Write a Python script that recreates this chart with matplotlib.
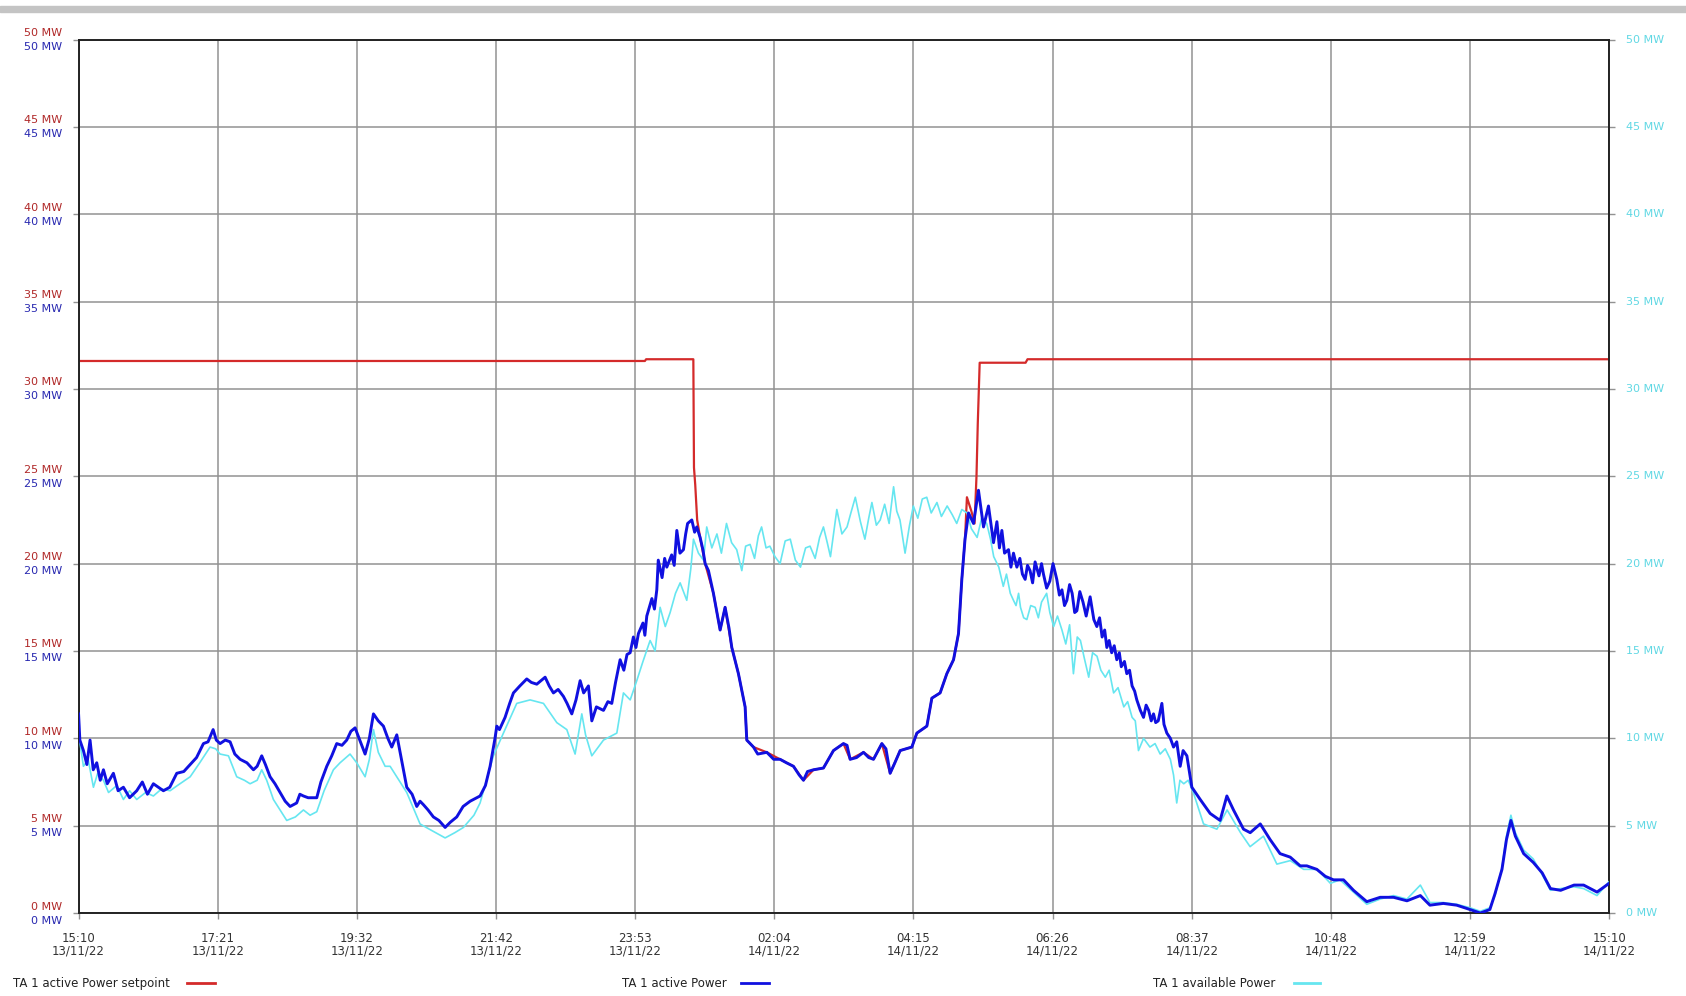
import matplotlib
matplotlib.use("Agg")
import matplotlib.pyplot as plt
from matplotlib.lines import Line2D
from matplotlib.patches import Rectangle

# time axis: hours after 15:10 13/11/22
tick_times = ["15:10", "17:21", "19:32", "21:42", "23:53", "02:04",
              "04:15", "06:26", "08:37", "10:48", "12:59", "15:10"]
tick_dates = ["13/11/22"] * 5 + ["14/11/22"] * 7
mw_ticks = [0, 5, 10, 15, 20, 25, 30, 35, 40, 45, 50]

# TA 1 active Power setpoint
setpoint_h = [0.0, 8.88, 8.9, 9.64, 9.65, 9.67, 9.70, 9.746, 9.825, 9.955, 10.06, 10.138,
              10.243, 10.347, 10.452, 10.478, 10.583, 10.792, 11.0, 11.21, 11.367, 11.524,
              11.68, 11.837, 11.994, 12.099, 12.308, 12.465, 12.596, 12.726, 12.883, 13.066,
              13.145, 13.302, 13.38, 13.51, 13.615, 13.72, 13.798, 13.85, 13.90, 13.93,
              14.0, 14.05, 14.08, 14.10, 14.13, 14.85, 14.88, 24.0]
setpoint_mw = [31.6, 31.6, 31.7, 31.7, 25.5, 24.5, 22.5, 21.5, 20.0, 18.3, 16.2, 17.5,
               15.2, 13.7, 11.8, 9.9, 9.5, 9.2, 8.8, 8.4, 7.6, 8.2,
               8.3, 9.3, 9.7, 8.8, 9.2, 8.8, 9.7, 8.0, 9.3, 9.5,
               10.3, 10.7, 12.3, 12.6, 13.7, 14.5, 16.0, 19.1, 21.4, 23.8,
               23.0, 22.3, 25.0, 28.0, 31.5, 31.5, 31.7, 31.7]

# TA 1 active Power
active_h = [0.0, 0.02, 0.076, 0.13, 0.18, 0.23, 0.285, 0.34, 0.39, 0.45, 0.546, 0.62,
            0.703, 0.80, 0.912, 1.0, 1.08, 1.173, 1.25, 1.33, 1.43, 1.54, 1.65, 1.75,
            1.85, 1.958, 2.03, 2.11, 2.16, 2.219, 2.30, 2.376, 2.45, 2.533, 2.64, 2.742,
            2.80, 2.872, 2.93, 3.003, 3.08, 3.16, 3.24, 3.317, 3.42, 3.47, 3.526, 3.6,
            3.735, 3.80, 3.892, 3.97, 4.048, 4.13, 4.205, 4.27, 4.336, 4.42, 4.493, 4.56,
            4.624, 4.70, 4.78, 4.85, 4.911, 4.99, 5.146, 5.23, 5.303, 5.355, 5.408, 5.48,
            5.564, 5.65, 5.748, 5.83, 5.93, 6.03, 6.14, 6.296, 6.38, 6.453, 6.53, 6.558,
            6.60, 6.688, 6.76, 6.819, 6.92, 7.028, 7.10, 7.185, 7.316, 7.38, 7.446, 7.52,
            7.603, 7.66, 7.734, 7.80, 7.865, 7.92, 7.995, 8.048, 8.12, 8.231, 8.30, 8.361,
            8.42, 8.492, 8.55, 8.60, 8.649, 8.70, 8.74, 8.779, 8.85, 8.88, 8.91, 8.99, 9.03,
            9.067, 9.09, 9.15, 9.19, 9.224, 9.30, 9.34, 9.381, 9.43, 9.485, 9.52, 9.55, 9.616,
            9.66, 9.694, 9.746, 9.79, 9.825,
            9.877, 9.955, 10.06, 10.138, 10.20, 10.243, 10.347, 10.452, 10.478, 10.583,
            10.65, 10.792, 10.90, 11.0, 11.10, 11.21, 11.30, 11.367, 11.43, 11.524, 11.68,
            11.837, 11.994, 12.05, 12.099, 12.20, 12.308, 12.39, 12.465, 12.596, 12.66,
            12.726, 12.80, 12.883, 13.066, 13.145, 13.302, 13.38, 13.51, 13.615, 13.72,
            13.798, 13.85, 13.90, 13.955, 14.033, 14.111, 14.19, 14.268, 14.347,
            14.40, 14.44, 14.478, 14.52, 14.582, 14.62, 14.66, 14.713, 14.76, 14.80, 14.843,
            14.88, 14.92, 14.96, 14.999, 15.06, 15.10, 15.13, 15.18, 15.23, 15.28, 15.339,
            15.38, 15.42, 15.46, 15.497, 15.54, 15.58, 15.62, 15.654, 15.70, 15.75, 15.80,
            15.862, 15.92, 15.967, 16.01, 16.05, 16.09, 16.124, 16.16, 16.20, 16.24, 16.28,
            16.32, 16.35, 16.40, 16.437, 16.48, 16.52, 16.56, 16.594, 16.65, 16.699, 16.74,
            16.78, 16.82, 16.856, 16.89, 16.93, 16.987, 17.02, 17.065, 17.12, 17.17, 17.22,
            17.274, 17.32, 17.379, 17.457, 17.588, 17.744,
            17.9, 18.006, 18.11, 18.267, 18.372, 18.53, 18.685, 18.84, 18.999, 19.156,
            19.26, 19.417, 19.55, 19.678, 19.835, 19.992, 20.2, 20.41, 20.62, 20.83,
            21.04, 21.19, 21.4, 21.61, 21.82, 21.98, 22.13, 22.21, 22.32, 22.39, 22.46,
            22.53, 22.66, 22.81, 22.95, 23.08, 23.24, 23.45, 23.6, 23.81, 24.0]
active_mw = [11.4, 9.9, 9.3, 8.5, 9.9, 8.2, 8.6, 7.6, 8.2, 7.4, 8.0, 7.0,
             7.2, 6.6, 7.0, 7.5, 6.8, 7.4, 7.2, 7.0, 7.2, 8.0, 8.1, 8.5,
             8.9, 9.7, 9.8, 10.5, 9.9, 9.7, 9.9, 9.8, 9.1, 8.8, 8.6, 8.2,
             8.4, 9.0, 8.5, 7.8, 7.4, 6.9, 6.4, 6.1, 6.3, 6.8, 6.7, 6.6,
             6.6, 7.5, 8.4, 9.0, 9.7, 9.6, 9.9, 10.4, 10.6, 9.8, 9.1, 10.0,
             11.4, 11.0, 10.7, 10.0, 9.5, 10.2, 7.2, 6.8, 6.1, 6.4, 6.2, 5.9,
             5.5, 5.3, 4.9, 5.2, 5.5, 6.1, 6.4, 6.7, 7.3, 8.4, 10.0, 10.7,
             10.5, 11.2, 12.0, 12.6, 13.0, 13.4, 13.2, 13.1, 13.5, 13.0, 12.6, 12.8,
             12.4, 12.0, 11.4, 12.2, 13.3, 12.6, 13.0, 11.0, 11.8, 11.6, 12.1, 12.0,
             13.2, 14.5, 13.9, 14.8, 14.9, 15.8, 15.2, 16.0, 16.6, 15.9, 17.0, 18.0, 17.4,
             18.5, 20.2, 19.2, 20.3, 19.8, 20.5, 19.9, 21.9, 20.6, 20.8, 21.7, 22.3, 22.5,
             21.8, 22.1, 21.5, 20.8, 20.0,
             19.6, 18.3, 16.2, 17.5, 16.3, 15.2, 13.7, 11.8, 9.9, 9.5,
             9.1, 9.2, 8.8, 8.8, 8.6, 8.4, 7.9, 7.6, 8.1, 8.2, 8.3,
             9.3, 9.7, 9.6, 8.8, 8.9, 9.2, 8.9, 8.8, 9.7, 9.4,
             8.0, 8.6, 9.3, 9.5, 10.3, 10.7, 12.3, 12.6, 13.7, 14.5,
             16.0, 19.1, 21.4, 22.9, 22.3, 24.2, 22.1, 23.3, 21.2,
             22.4, 20.9, 21.9, 20.6, 20.8, 19.8, 20.6, 19.8, 20.3, 19.4, 19.1,
             19.9, 19.6, 18.9, 20.1, 19.3, 20.0, 19.4, 18.6, 19.0, 20.0, 19.1,
             18.2, 18.5, 17.6, 17.9, 18.8, 18.3, 17.2, 17.3, 18.4, 17.8, 17.0,
             18.1, 16.8, 16.4, 16.9, 15.8, 16.2, 15.2, 15.6, 14.9, 15.3, 14.5,
             14.9, 14.1, 14.4, 13.7, 13.9, 13.0, 12.7, 12.2, 11.6, 11.2, 11.9,
             11.6, 11.0, 11.4, 10.9, 11.0, 12.0, 10.8, 10.3, 10.0, 9.5, 9.8,
             8.4, 9.3, 9.0, 7.2, 6.5, 5.7,
             5.3, 6.7, 5.9, 4.8, 4.6, 5.1, 4.2, 3.4, 3.2, 2.7,
             2.7, 2.5, 2.1, 1.9, 1.9, 1.3, 0.65, 0.9, 0.9, 0.7,
             1.0, 0.45, 0.55, 0.45, 0.2, 0.0, 0.2, 1.1, 2.5, 4.2, 5.3,
             4.4, 3.4, 2.9, 2.3, 1.4, 1.3, 1.6, 1.6, 1.2, 1.7]

# TA 1 available Power
avail_h = [0.0, 0.076, 0.15, 0.233, 0.30, 0.39, 0.47, 0.60, 0.703, 0.80, 0.912, 1.05,
           1.173, 1.30, 1.435, 1.55, 1.75, 1.90, 2.062, 2.15, 2.219, 2.35, 2.48, 2.60,
           2.69, 2.80, 2.872, 2.95, 3.055, 3.16, 3.264, 3.40, 3.526, 3.63, 3.735, 3.85,
           3.996, 4.10, 4.257, 4.362, 4.493, 4.56, 4.624, 4.70, 4.807, 4.885, 5.146,
           5.355, 5.50, 5.748, 5.90, 6.035, 6.20, 6.296, 6.505, 6.662, 6.871, 7.08,
           7.29, 7.499, 7.656, 7.786, 7.891, 7.95, 8.048, 8.231, 8.44, 8.544, 8.65, 8.753,
           8.85, 8.962, 9.04, 9.119, 9.20, 9.276, 9.36, 9.433, 9.537, 9.60, 9.642, 9.72, 9.799,
           9.85, 9.93, 10.01, 10.08, 10.16, 10.24, 10.32, 10.40, 10.46, 10.53, 10.60,
           10.66, 10.71, 10.78, 10.84, 10.92, 11.00, 11.08, 11.16, 11.24, 11.32, 11.40,
           11.47, 11.55, 11.62, 11.68, 11.74, 11.79, 11.85, 11.89, 11.97, 12.05, 12.11,
           12.18, 12.26, 12.33, 12.39, 12.44, 12.51, 12.57, 12.64, 12.71, 12.78, 12.83,
           12.88, 12.96, 13.03, 13.09, 13.16, 13.23, 13.30, 13.37, 13.46, 13.53, 13.62,
           13.70, 13.77, 13.85, 13.93, 14.00, 14.09, 14.16, 14.24, 14.30, 14.35, 14.43,
           14.50, 14.55, 14.61, 14.66, 14.70, 14.74, 14.77, 14.82, 14.87, 14.93, 15.0,
           15.05, 15.10, 15.18, 15.23, 15.29, 15.35, 15.42, 15.48, 15.54, 15.60, 15.66,
           15.71, 15.77, 15.84, 15.90, 15.97, 16.03, 16.10, 16.16, 16.23, 16.30, 16.39,
           16.45, 16.52, 16.57, 16.62, 16.70, 16.80, 16.88, 16.96, 17.04, 17.12, 17.17,
           17.22, 17.27, 17.33, 17.40, 17.48, 17.56, 17.64, 17.85, 18.01, 18.22, 18.37,
           18.58, 18.79, 19.0, 19.21,
           19.42, 19.63, 19.78, 19.99, 20.2, 20.41, 20.62, 20.83, 21.04, 21.19, 21.4,
           21.61, 21.82, 21.98, 22.13, 22.21, 22.32, 22.39, 22.46, 22.53, 22.66, 22.81,
           22.95, 23.08, 23.24, 23.45, 23.6, 23.81, 24.0]
avail_mw = [10.3, 8.4, 8.8, 7.2, 8.0, 7.6, 6.9, 7.3, 6.5, 7.0, 6.5, 6.9,
            6.7, 7.1, 7.0, 7.3, 7.8, 8.6, 9.5, 9.4, 9.1, 9.0, 7.8, 7.6,
            7.4, 7.6, 8.2, 7.6, 6.5, 5.9, 5.3, 5.5, 5.9, 5.6, 5.8, 7.0,
            8.2, 8.6, 9.1, 8.6, 7.8, 8.8, 10.5, 9.2, 8.4, 8.4, 6.9,
            5.1, 4.8, 4.3, 4.6, 4.9, 5.6, 6.3, 9.0, 10.3, 12.0, 12.2,
            12.0, 10.9, 10.5, 9.1, 11.4, 10.2, 9.0, 9.9, 10.3, 12.6, 12.2, 13.3,
            14.4, 15.6, 15.0, 17.5, 16.4, 17.2, 18.3, 18.9, 17.9, 19.7, 21.4, 20.6, 20.2,
            22.1, 20.9, 21.7, 20.6, 22.3, 21.2, 20.8, 19.6, 21.0, 21.1, 20.3,
            21.6, 22.1, 20.9, 21.0, 20.4, 20.0, 21.3, 21.4, 20.2, 19.8, 20.9,
            21.0, 20.3, 21.5, 22.1, 21.2, 20.4, 22.0, 23.1, 21.7, 22.1, 22.9,
            23.8, 22.4, 21.4, 22.6, 23.5, 22.2, 22.5, 23.4, 22.3, 24.4, 23.0,
            22.5, 20.6, 22.2, 23.3, 22.6, 23.7, 23.8, 22.9, 23.5, 22.7, 23.3,
            22.8, 22.3, 23.1, 22.9, 22.0, 21.5, 22.6, 22.3, 21.4, 20.4, 19.8,
            18.7, 19.4, 18.3, 17.9, 17.6, 18.3, 17.5, 16.9, 16.8, 17.6, 17.5,
            16.9, 17.8, 18.3, 17.2, 16.4, 17.0, 16.2, 15.4, 16.5, 13.7, 15.8,
            15.6, 14.6, 13.5, 14.9, 14.7, 13.9, 13.5, 13.9, 12.6, 12.9, 11.8,
            12.1, 11.2, 11.0, 9.3, 10.0, 9.5, 9.7, 9.1, 9.4, 8.8, 7.9,
            6.3, 7.6, 7.4, 7.6, 6.9, 6.0, 5.1, 4.8, 5.9, 4.6, 3.8,
            4.4, 2.8, 3.0, 2.5,
            2.5, 1.7, 1.9, 1.2, 0.5, 0.8, 1.0, 0.8, 1.6, 0.6, 0.6,
            0.5, 0.3, 0.1, 0.3, 1.0, 2.6, 4.4, 5.6, 4.6, 3.6, 3.1,
            2.2, 1.3, 1.4, 1.5, 1.4, 1.0, 1.8]

red = "#d42a2a"
blue = "#1010e0"
cyan = "#66e6f0"
grid_col = "#929292"

fig = plt.figure(figsize=(16.86, 9.96), dpi=100)
fig.patches.append(Rectangle((0, 0.988), 1, 0.006, transform=fig.transFigure,
                             color="#c4c4c4", zorder=0))
ax = fig.add_axes([0.0466, 0.0833, 0.9078, 0.877])

ax.plot(setpoint_h, setpoint_mw, color=red, lw=1.6, zorder=2)
ax.plot(avail_h, avail_mw, color=cyan, lw=1.2, zorder=3)
ax.plot(active_h, active_mw, color=blue, lw=2.1, zorder=4)

ax.set_xlim(0, 24)
ax.set_ylim(0, 50)
ax.set_xticks([24 * i / 11 for i in range(12)])
ax.set_xticklabels([t + "\n" + d for t, d in zip(tick_times, tick_dates)],
                   fontsize=8.5, color="#333333", linespacing=0.95)
ax.set_yticks(mw_ticks)
ax.set_yticklabels([])
ax.tick_params(axis="both", direction="out", length=4.5, width=1, color=grid_col)
ax.tick_params(axis="y", right=True)
ax.tick_params(axis="x", pad=9)
ax.grid(True, color=grid_col, lw=1.1)
ax.set_axisbelow(True)
for s in ax.spines.values():
    s.set_color("#222222")
    s.set_linewidth(1.4)

for v in mw_ticks:
    ax.annotate(f"{v} MW", xy=(0, v), xycoords=("axes fraction", "data"),
                xytext=(-16, 6.5), textcoords="offset pixels", ha="right",
                va="center", fontsize=8, color="#b02828")
    ax.annotate(f"{v} MW", xy=(0, v), xycoords=("axes fraction", "data"),
                xytext=(-16, -7.5), textcoords="offset pixels", ha="right",
                va="center", fontsize=8, color="#2828b0")
    ax.annotate(f"{v} MW", xy=(1, v), xycoords=("axes fraction", "data"),
                xytext=(17, 0), textcoords="offset pixels", ha="left",
                va="center", fontsize=8, color="#60d8e4")

# legend row at the bottom
W, H = 1686, 996
legend = [("TA 1 active Power setpoint", red, 13, 187, 215),
          ("TA 1 active Power", blue, 622, 741, 769),
          ("TA 1 available Power", cyan, 1153, 1294, 1320)]
ly = 1 - 983 / H
for label, col, tx, x0, x1 in legend:
    fig.text(tx / W, ly, label, fontsize=8.5, color="#222222", va="center", ha="left")
    fig.add_artist(Line2D([x0 / W, x1 / W], [ly, ly], color=col, lw=2,
                          transform=fig.transFigure))

fig.savefig("out.png", dpi=100, facecolor="white")
